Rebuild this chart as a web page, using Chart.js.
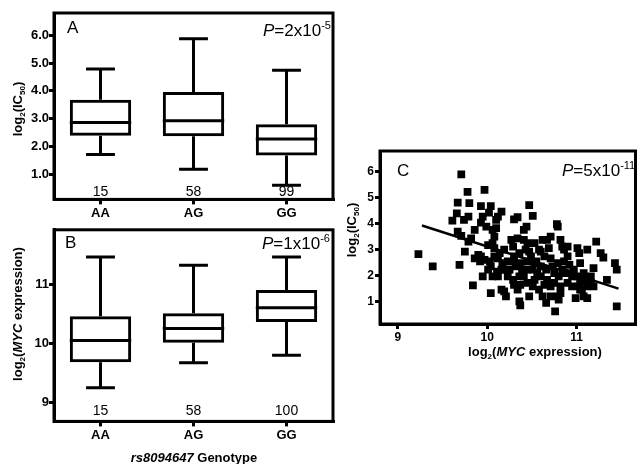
<!DOCTYPE html>
<html>
<head>
<meta charset="utf-8">
<script src="https://cdn.jsdelivr.net/npm/chart.js@4.4.0/dist/chart.umd.min.js"></script>
<style>
  body { margin: 0; background: #fff; }
  #wrap { position: relative; width: 641px; height: 464px; overflow: hidden; font-family: "Liberation Sans", Arial, sans-serif; color: #000; }
  .cv { position: absolute; }
  .txt { position: absolute; white-space: nowrap; line-height: 1; }
  .rot { transform: translate(-50%, -50%) rotate(-90deg); font-weight: bold; font-size: 13px; }
  .ctr { transform: translate(-50%, -50%); font-weight: bold; font-size: 13px; }
  .pan { font-size: 17px; }
  .pv { font-size: 17px; }
  .pv sup { font-size: 11px; vertical-align: 7px; }
  sub { font-size: 8px; vertical-align: -3px; }
</style>
</head>
<body>
<div id="wrap">
  <div class="cv" style="left:0;top:0;width:340px;height:222px"><canvas id="chartA"></canvas></div>
  <div class="cv" style="left:0;top:222px;width:340px;height:242px"><canvas id="chartB"></canvas></div>
  <div class="cv" style="left:340px;top:140px;width:301px;height:224px"><canvas id="chartC"></canvas></div>

  <div class="txt rot" style="left:19px;top:109px">log<sub>2</sub>(IC<sub>50</sub>)</div>
  <div class="txt rot" style="left:19px;top:314px">log<sub>2</sub>(<i>MYC</i> expression)</div>
  <div class="txt ctr" style="left:194px;top:457px"><i>rs8094647</i> Genotype</div>
  <div class="txt rot" style="left:353px;top:230px">log<sub>2</sub>(IC<sub>50</sub>)</div>
  <div class="txt ctr" style="left:535px;top:353px">log<sub>2</sub>(<i>MYC</i> expression)</div>

  <div class="txt pan" style="left:67px;top:19px">A</div>
  <div class="txt pan" style="left:65px;top:234px">B</div>
  <div class="txt pan" style="left:397px;top:162px">C</div>
  <div class="txt pv" style="left:263px;top:20px"><i>P</i>=2x10<sup>-5</sup></div>
  <div class="txt pv" style="left:262px;top:233px"><i>P</i>=1x10<sup>-6</sup></div>
  <div class="txt pv" style="left:562px;top:160px"><i>P</i>=5x10<sup>-11</sup></div>
</div>
<script>
// 遺伝子型
var genotypes = ["AA", "AG", "GG"];

// A: log2(IC50) の箱ひげ
var icMin = [1.71, 1.18, 0.61];
var icQ1 = [2.39, 2.37, 1.68];
var icMed = [2.86, 2.93, 2.27];
var icQ3 = [3.68, 3.96, 2.8];
var icMax = [4.79, 5.87, 4.74];
var icN = [15, 58, 99];
var icTicks = [1, 2, 3, 4, 5, 6];

// B: log2(MYC expression) の箱ひげ
var mycMin = [9.25, 9.67, 9.8];
var mycQ1 = [9.68, 10.01, 10.36];
var mycMed = [10.05, 10.25, 10.6];
var mycQ3 = [10.46, 10.51, 10.9];
var mycMax = [11.46, 11.32, 11.46];
var mycN = [15, 58, 100];
var mycTicks = [9, 10, 11];

// C: 散布図 (MYC, IC50)
var scX = [9.71, 9.78, 9.97, 9.67, 9.8, 9.66, 9.61, 9.74, 9.79, 9.93, 10.04, 10.02, 9.93, 9.99, 10.1, 10.12, 10.06, 10.47, 10.51, 10.44,
  10.3, 10.34, 9.67, 9.71, 9.79, 9.75, 9.23, 9.39, 9.69, 9.9, 9.93, 9.86, 9.95, 9.84, 10.06, 10.08, 10.04, 10.06, 10.04, 10.12,
  10.17, 10.19, 10.21, 10.29, 10.3, 10.3, 10.34, 10.36, 10.37, 10.41, 10.43, 10.45, 10.47, 10.51, 10.53, 10.58, 10.6, 10.62, 10.66, 10.67,
  10.69, 10.71, 10.75, 10.76, 10.78, 10.79, 10.79, 10.8, 10.84, 10.86, 10.86, 10.9, 10.95, 10.99, 11.01, 11.03, 11.04, 11.06, 11.08, 11.12,
  11.16, 11.19, 11.22, 11.27, 11.3, 11.34, 11.43, 11.45, 11.45,
  10.14, 10.19, 10.23, 10.25, 10.16, 10.11, 10.03, 10.01, 10.36, 10.37, 10.39, 10.36, 10.41, 10.45, 10.49, 10.53, 10.55, 10.56, 10.6, 10.64,
  10.66, 10.67, 10.71, 10.73, 10.75, 10.79, 10.8, 10.82, 10.9, 10.92, 10.95, 10.97, 11.04, 11.08, 11.12, 11.16, 10.27, 10.34, 10.45, 10.41,
  10.62, 10.71, 10.23, 10.29, 10.45, 10.51, 10.58, 10.3, 10.32, 10.19, 10.53, 10.6, 10.47, 10.86, 10.84, 11.01, 11.03, 10.92, 10.08, 9.97,
  9.92, 10.01, 9.86, 9.82, 10.08, 10.1, 10.16, 9.95, 10.12, 10.16, 10.37, 10.64, 10.71, 10.82, 11.04, 11.08, 11.12, 11.19, 10.82, 10.9];
var scY = [5.9, 5.23, 5.3, 4.81, 4.79, 4.4, 4.12, 4.15, 4.27, 4.68, 4.68, 4.43, 4.04, 3.89, 4.15, 4.27, 3.76, 4.72, 4.3, 3.89,
  4.17, 4.25, 3.7, 3.53, 3.31, 2.93, 2.83, 2.36, 2.42, 2.8, 2.74, 2.67, 1.97, 1.63, 3.25, 3.06, 2.36, 1.97, 1.33, 2.67,
  2.48, 1.4, 1.2, 3.12, 2.74, 1.65, 1.46, 1.01, 0.86, 3.38, 3.0, 2.55, 1.2, 2.23, 1.84, 3.0, 2.36, 1.2, 0.95, 3.38,
  3.06, 2.67, 1.72, 0.63, 3.98, 3.89, 1.2, 1.08, 3.12, 3.0, 2.1, 1.72, 1.97, 1.14, 3.06, 2.87, 1.78, 1.46, 1.2, 3.0,
  1.72, 2.29, 3.31, 2.87, 2.7, 1.84, 2.48, 2.23, 0.82,
  2.87, 3.0, 2.55, 2.23, 2.23, 2.16, 2.55, 2.23, 2.87, 2.48, 2.23, 1.97, 1.97, 2.23, 2.74, 3.25, 2.55, 2.1, 1.97, 2.74,
  2.23, 1.84, 1.59, 2.36, 2.1, 2.48, 1.97, 1.59, 2.74, 2.42, 1.59, 2.23, 2.48, 2.1, 1.59, 1.97, 3.38, 3.44, 3.25, 3.76,
  3.38, 3.5, 1.97, 1.84, 1.72, 1.59, 1.46, 2.55, 2.36, 2.23, 2.48, 2.93, 2.93, 2.55, 2.23, 1.97, 1.59, 2.1, 2.74, 2.61,
  2.55, 3.18, 3.76, 3.44, 3.5, 3.83, 4.47, 4.27, 1.97, 1.46, 1.65, 1.65, 1.2, 1.33, 1.46, 1.78, 1.14, 1.59, 3.38, 3.12];
var scTicksX = [9, 10, 11];
var scTicksY = [1, 2, 3, 4, 5, 6];

// 回帰直線の両端
var fitX = [9.27, 11.47];
var fitY = [3.93, 1.5];

var FONT = "'Liberation Sans', Arial, sans-serif";
Chart.defaults.font.family = FONT;
Chart.defaults.color = "#000";

// 外枠
var framePlugin = {
  id: "frame",
  afterDraw: function (chart) {
    var a = chart.chartArea;
    var ctx = chart.ctx;
    ctx.save();
    ctx.strokeStyle = "#000";
    ctx.lineWidth = 3;
    ctx.strokeRect(a.left, a.top, a.right - a.left, a.bottom - a.top);
    ctx.restore();
  },
};

// ひげ・中央値・例数
var boxPlugin = {
  id: "boxExtras",
  afterDatasetsDraw: function (chart, args, opts) {
    var ctx = chart.ctx;
    var xs = chart.scales.x;
    var ys = chart.scales.y;
    var meta = chart.getDatasetMeta(0);
    ctx.save();
    ctx.strokeStyle = "#000";
    ctx.lineWidth = 3;
    ctx.lineCap = "butt";
    for (var i = 0; i < opts.med.length; i++) {
      var bar = meta.data[i];
      var cx = xs.getPixelForValue(i);
      var half = bar.width / 2;
      var cap = half * 0.47;
      var pMin = ys.getPixelForValue(opts.min[i]);
      var pMax = ys.getPixelForValue(opts.max[i]);
      var pQ1 = ys.getPixelForValue(opts.q1[i]);
      var pQ3 = ys.getPixelForValue(opts.q3[i]);
      var pMed = ys.getPixelForValue(opts.med[i]);
      ctx.beginPath();
      ctx.moveTo(cx, pQ3);
      ctx.lineTo(cx, pMax);
      ctx.moveTo(cx - cap, pMax);
      ctx.lineTo(cx + cap, pMax);
      ctx.moveTo(cx, pQ1);
      ctx.lineTo(cx, pMin);
      ctx.moveTo(cx - cap, pMin);
      ctx.lineTo(cx + cap, pMin);
      ctx.moveTo(cx - half, pMed);
      ctx.lineTo(cx + half, pMed);
      ctx.stroke();
    }
    ctx.fillStyle = "#000";
    ctx.font = "14px " + FONT;
    ctx.textAlign = "center";
    ctx.textBaseline = "bottom";
    for (var j = 0; j < opts.n.length; j++) {
      ctx.fillText(String(opts.n[j]), xs.getPixelForValue(j), chart.chartArea.bottom - opts.nGap);
    }
    ctx.restore();
  },
};

function boxChart(id, q1, q3, min, max, med, n, yMin, yMax, ticks, digits, pad, nGap) {
  var floats = q1.map(function (v, i) {
    return [v, q3[i]];
  });
  return new Chart(document.getElementById(id), {
    type: "bar",
    data: {
      labels: genotypes,
      datasets: [
        {
          data: floats,
          backgroundColor: "rgba(0,0,0,0)",
          borderColor: "#000",
          borderWidth: 3,
          borderSkipped: false,
          barPercentage: 0.66,
          categoryPercentage: 1,
        },
      ],
    },
    options: {
      responsive: true,
      maintainAspectRatio: false,
      animation: false,
      layout: { padding: pad },
      plugins: {
        legend: { display: false },
        tooltip: { enabled: false },
        boxExtras: { q1: q1, q3: q3, min: min, max: max, med: med, n: n, nGap: nGap },
      },
      scales: {
        x: {
          grid: { drawOnChartArea: false, color: "#000", lineWidth: 3, tickLength: 5, offset: false },
          border: { color: "#000", width: 3 },
          ticks: { font: { size: 13, weight: "bold" }, padding: 1 },
        },
        y: {
          min: yMin,
          max: yMax,
          afterBuildTicks: function (axis) {
            axis.ticks = ticks.map(function (v) {
              return { value: v };
            });
          },
          afterFit: function (axis) {
            axis.width = 54;
          },
          grid: { drawOnChartArea: false, color: "#000", lineWidth: 3, tickLength: 5 },
          border: { color: "#000", width: 3 },
          ticks: {
            font: { size: 13, weight: "bold" },
            padding: 0,
            callback: function (v) {
              return Number(v).toFixed(digits);
            },
          },
        },
      },
    },
    plugins: [boxPlugin, framePlugin],
  });
}

boxChart("chartA", icQ1, icQ3, icMin, icMax, icMed, icN, 0.1, 6.8, icTicks, 1, { left: 0, top: 13, right: 7, bottom: 0 }, 0);
boxChart("chartB", mycQ1, mycQ3, mycMin, mycMax, mycMed, mycN, 8.68, 11.92, mycTicks, 0, { left: 0, top: 6, right: 7, bottom: 20 }, 3);

var scPoints = scX.map(function (x, i) {
  return { x: x, y: scY[i] };
});
var fitPoints = fitX.map(function (x, i) {
  return { x: x, y: fitY[i] };
});

new Chart(document.getElementById("chartC"), {
  type: "scatter",
  data: {
    datasets: [
      {
        data: scPoints,
        pointStyle: "rect",
        radius: 5.5,
        backgroundColor: "#000",
        borderWidth: 0,
      },
      {
        type: "line",
        data: fitPoints,
        borderColor: "#000",
        borderWidth: 2.5,
        pointRadius: 0,
        fill: false,
      },
    ],
  },
  options: {
    responsive: true,
    maintainAspectRatio: false,
    animation: false,
    layout: { padding: { left: 0, top: 11, right: 3, bottom: 0 } },
    plugins: { legend: { display: false }, tooltip: { enabled: false } },
    scales: {
      x: {
        type: "linear",
        min: 8.8,
        max: 11.66,
        afterBuildTicks: function (axis) {
          axis.ticks = scTicksX.map(function (v) {
            return { value: v };
          });
        },
        afterFit: function (axis) {
          axis.height = 40;
        },
        grid: { drawOnChartArea: false, color: "#000", lineWidth: 3, tickLength: 5 },
        border: { color: "#000", width: 3 },
        ticks: { font: { size: 12, weight: "bold" }, padding: 1 },
      },
      y: {
        min: 0.14,
        max: 6.8,
        afterBuildTicks: function (axis) {
          axis.ticks = scTicksY.map(function (v) {
            return { value: v };
          });
        },
        afterFit: function (axis) {
          axis.width = 40;
        },
        grid: { drawOnChartArea: false, color: "#000", lineWidth: 3, tickLength: 5 },
        border: { color: "#000", width: 3 },
        ticks: { font: { size: 12, weight: "bold" }, padding: 1 },
      },
    },
  },
  plugins: [framePlugin],
});
</script>
</body>
</html>
